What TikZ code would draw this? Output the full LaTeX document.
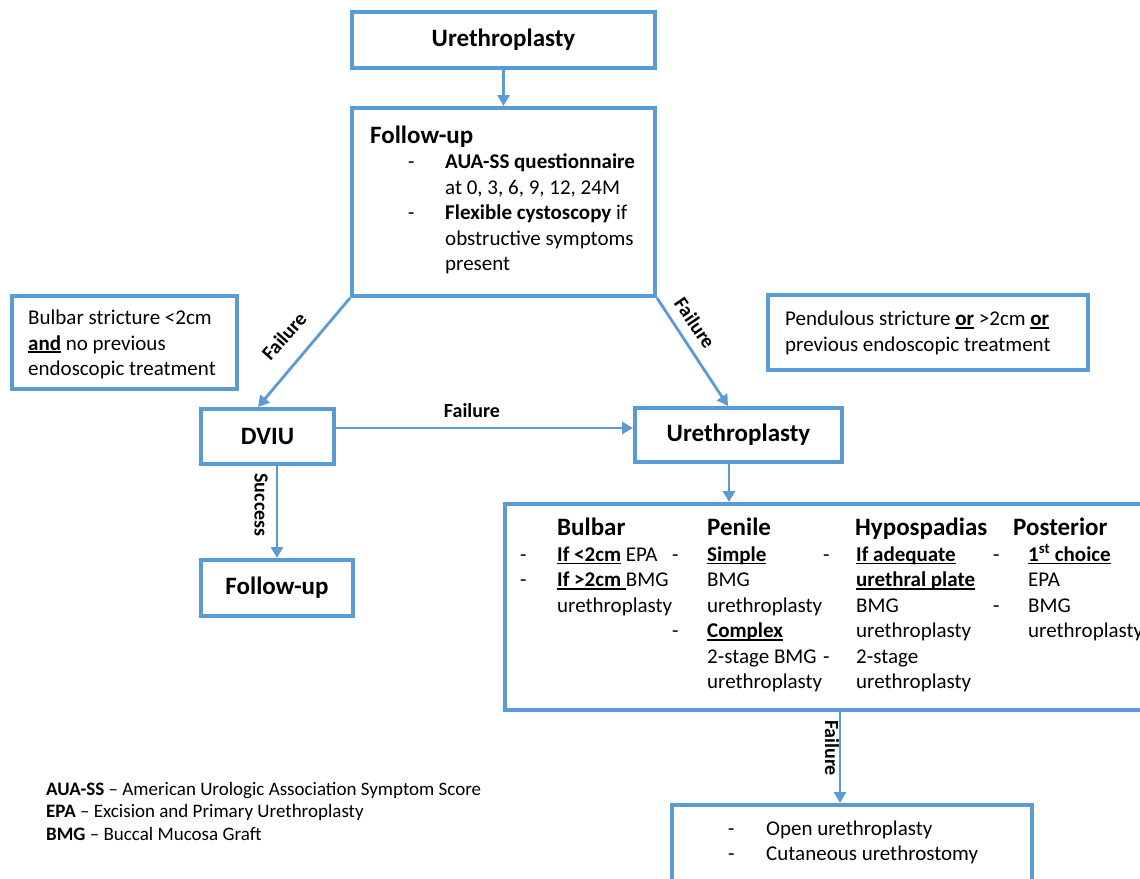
\documentclass[tikz,border=0pt]{standalone}
\usepackage{fontspec}
\setmainfont{Carlito}
\usetikzlibrary{arrows.meta}

\definecolor{flowblue}{RGB}{91,155,213}
\newsavebox{\ulbox}
\newcommand{\ulbf}[1]{\sbox{\ulbox}{\textbf{#1}}\rlap{\rule[-3pt]{\wd\ulbox}{1.7pt}}\usebox{\ulbox}}

\tikzset{
  flowbox/.style={draw=flowblue, line width=4pt, inner sep=0pt},
  flowarrow/.style={draw=flowblue, line width=2.8pt, -{Triangle[length=11pt,width=12pt]}},
  boxtitle/.style={font=\fontsize{25}{30}\selectfont\bfseries},
  linetext/.style={anchor=base west, inner sep=0pt, font=\fontsize{21}{25}\selectfont},
  headtext/.style={anchor=base west, inner sep=0pt, font=\fontsize{25}{30}\selectfont\bfseries},
  arrowlabel/.style={inner sep=0pt, font=\fontsize{20}{24}\selectfont\bfseries},
  legendtext/.style={anchor=base west, inner sep=0pt, font=\fontsize{19}{23}\selectfont},
}

\begin{document}
\begin{tikzpicture}[x=1pt,y=-1pt]
  \clip (0,0) rectangle (1140,878);
  \fill[white] (0,0) rectangle (1140,878);

  % boxes
  \node[flowbox, boxtitle, minimum width=303pt, minimum height=56pt] (top) at (503.5,40) {Urethroplasty}; % first surgery
  \node[flowbox, minimum width=303pt, minimum height=188pt] (fup) at (503.5,202) {}; % follow-up box
  \node[flowbox, minimum width=225pt, minimum height=93pt] (leftnote) at (124.5,342.5) {}; % bulbar note
  \node[flowbox, minimum width=320pt, minimum height=75pt] (rightnote) at (928,332.5) {}; % pendulous note
  \node[flowbox, boxtitle, minimum width=133pt, minimum height=55pt] (dviu) at (267.5,436.5) {DVIU};
  \node[flowbox, boxtitle, minimum width=207pt, minimum height=54pt] (ureth) at (738.5,435) {Urethroplasty};
  \node[flowbox, boxtitle, minimum width=152pt, minimum height=56pt] (fup2) at (277,588) {Follow-up};
  \node[flowbox, minimum width=670pt, minimum height=206pt] (big) at (840,607) {}; % techniques
  \node[flowbox, minimum width=360pt, minimum height=100pt] (bot) at (852,855) {}; % last resort

  % follow-up text
  \node[headtext] (fuptitle) at (370,143) {Follow-up};
  \node[linetext] (fupd1) at (408,168.5) {-};
  \node[linetext] (fupd2) at (408,219.5) {-};
  \foreach \t [count=\i] in {{\textbf{AUA-SS questionnaire}}, {at 0, 3, 6, 9, 12, 24M}, {\textbf{Flexible cystoscopy} if}, obstructive symptoms, present}
    \node[linetext] (fupl\i) at (445,143+25.5*\i) {\t};

  % notes
  \foreach \t [count=\i] in {Bulbar stricture <2cm, {\ulbf{and} no previous}, endoscopic treatment}
    \node[linetext] (leftl\i) at (28,299+25.5*\i) {\t};
  \foreach \t [count=\i] in {{Pendulous stricture \ulbf{or} >2cm \ulbf{or}}, previous endoscopic treatment}
    \node[linetext] (rightl\i) at (785,300+25.5*\i) {\t};

  % techniques
  \node[headtext] (bulbar) at (557,535) {Bulbar};
  \node[headtext] (penile) at (707,535) {Penile};
  \node[headtext] (hypo) at (855,535) {Hypospadias};
  \node[headtext] (post) at (1013,535) {Posterior};
  \foreach \x/\i in {520/1, 520/2, 672/1, 672/4, 823/1, 823/5, 993/1, 993/3}
    \node[linetext] (dash\x\i) at (\x,536+25.4*\i) {-};
  \foreach \t [count=\i] in {{\ulbf{If <2cm} EPA}, {\ulbf{If >2cm\ }BMG}, urethroplasty}
    \node[linetext] (bulbar\i) at (557,536+25.4*\i) {\t};
  \foreach \t [count=\i] in {{\ulbf{Simple}}, BMG, urethroplasty, {\ulbf{Complex}}, 2-stage BMG, urethroplasty}
    \node[linetext] (penile\i) at (707,536+25.4*\i) {\t};
  \foreach \t [count=\i] in {{\ulbf{If adequate}}, {\ulbf{urethral plate}}, BMG, urethroplasty, 2-stage, urethroplasty}
    \node[linetext] (hypo\i) at (856,536+25.4*\i) {\t};
  \foreach \t [count=\i] in {{\ulbf{1\textsuperscript{st} choice}}, EPA, BMG, urethroplasty}
    \node[linetext] (post\i) at (1028,536+25.4*\i) {\t};

  % last resort
  \node[linetext] (botd1) at (728,835) {-};
  \node[linetext] (botd2) at (728,860.5) {-};
  \node[linetext] (bot1) at (766,835) {Open urethroplasty};
  \node[linetext] (bot2) at (766,860.5) {Cutaneous urethrostomy};

  % legend
  \node[legendtext] (leg1) at (46,795) {\textbf{AUA-SS} – American Urologic Association Symptom Score};
  \node[legendtext] (leg2) at (46,817.5) {\textbf{EPA} – Excision and Primary Urethroplasty};
  \node[legendtext] (leg3) at (46,840) {\textbf{BMG} – Buccal Mucosa Graft};

  % arrows
  \draw[flowarrow] (top) -- (fup);
  \draw[flowarrow] (fup.south west) -- ([xshift=-9.5pt]dviu.north);
  \draw[flowarrow] (fup.south east) -- ([xshift=-10.5pt]ureth.north);
  \draw[flowarrow] ([yshift=8.5pt]dviu.east) -- ([yshift=8.5pt]dviu.east -| ureth.west);
  \draw[flowarrow] (fup2.north |- dviu.south) -- (fup2.north);
  \draw[flowarrow] ([xshift=-9.5pt]ureth.south) -- ([xshift=-9.5pt]ureth.south |- big.north);
  \draw[flowarrow] (big.south) -- (big.south |- bot.north);

  % arrow labels
  \node[arrowlabel, rotate=48.6] (fail1) at (284,336) {Failure};
  \node[arrowlabel, rotate=-55.5] (fail2) at (695,323) {Failure};
  \node[arrowlabel] (fail3) at (472,411) {Failure};
  \node[arrowlabel, rotate=-90] (success) at (261,505) {Success};
  \node[arrowlabel, rotate=-90] (fail4) at (832,748) {Failure};
\end{tikzpicture}
\end{document}
